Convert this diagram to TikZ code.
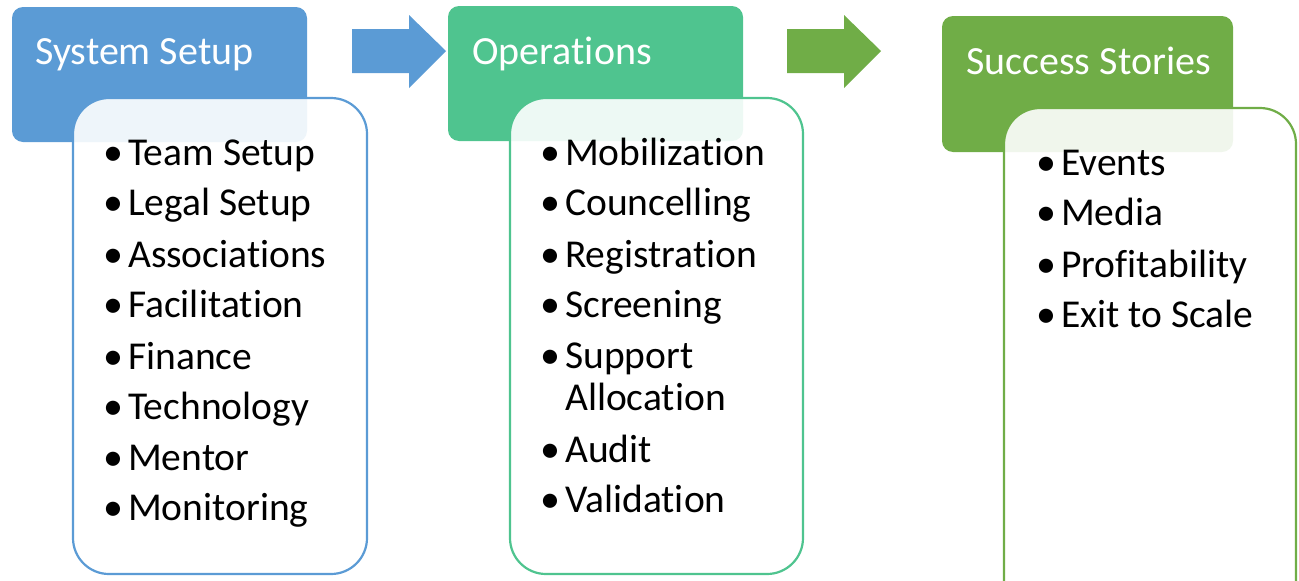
\documentclass[tikz,border=0pt]{standalone}
\usepackage{fontspec}
\setmainfont{Carlito}[RawFeature={-liga;-clig;-calt;-dlig}]
\definecolor{cblue}{HTML}{5B9BD5}
\definecolor{cteal}{HTML}{4FC48F}
\definecolor{cgreen}{HTML}{70AD47}
\newcommand{\nl}{\kern0pt }
\begin{document}
\begin{tikzpicture}[x=1pt,y=-1pt,
  hdr/.style={fill=#1, draw=none, rounded corners=11pt},
  body/.style={draw=#1, line width=2.2pt, fill=white, fill opacity=0.9, rounded corners=36pt},
  hdrtext/.style={anchor=base west, inner sep=0pt, text=white, font=\fontsize{40}{44}\selectfont},
  item/.style={anchor=base west, inner sep=0pt, font=\fontsize{39.5}{44}\selectfont, align=left},
  bul/.style={anchor=base west, inner sep=0pt, font=\fontsize{40}{44}\selectfont},
  arrowshape/.style={fill=#1, draw=none}]
\useasboundingbox (0,0) rectangle (1299,581);
\begin{scope}
\clip (0,0) rectangle (1299,581);
% headers
\path[hdr=cblue] (12,7) rectangle (307,142);
\path[hdr=cteal] (448,6) rectangle (743,141);
\path[hdr=cgreen] (942,16) rectangle (1233,152);
% bodies
\path[body=cblue] (73,98) rectangle (367,574);
\path[body=cteal] (510,98) rectangle (803,574);
\path[body=cgreen] (1004,108) rectangle (1296,620);
% arrows
\path[arrowshape=cblue] (352,29) -- (409,29) -- (409,15) -- (446,51) -- (409,88) -- (409,73) -- (352,73) -- cycle;
\path[arrowshape=cgreen] (787,29) -- (844,29) -- (844,15) -- (881,51) -- (844,88) -- (844,73) -- (787,73) -- cycle;
\end{scope}
% header texts
\node[hdrtext] (h1) at (35,64) {System Setup};
\node[hdrtext] (h2) at (472,64) {Operations};
\node[hdrtext] (h3) at (966,74) {Success Stories};
% column 1
\foreach \t/\y [count=\i] in {Team Setup/165, Legal Setup/215, Associat\nl ions/267, Facilit\nl at\nl ion/317, Finance/369, Technology/419, Mentor/470, Monitoring/520}{
  \node[bul] (b1\i) at (103,\y) {•};
  \node[item] (a1\i) at (128,\y) {\t};
}
% column 2
\foreach \t/\y [count=\i] in {Mobilizat\nl ion/165, Councelling/215, Registrat\nl ion/267, Screening/317, Support/368, Audit/462, Validat\nl ion/512}{
  \node[bul] (b2\i) at (540,\y) {•};
  \node[item] (a2\i) at (565,\y) {\t};
}
\node[item] (a2x) at (565,410) {Allocat\nl ion};
% column 3
\foreach \t/\y [count=\i] in {Events/175, Media/225, Prof\nl it\nl ability/277, Exit to Scale/327}{
  \node[bul] (b3\i) at (1036,\y) {•};
  \node[item] (a3\i) at (1061,\y) {\t};
}
\end{tikzpicture}
\end{document}
